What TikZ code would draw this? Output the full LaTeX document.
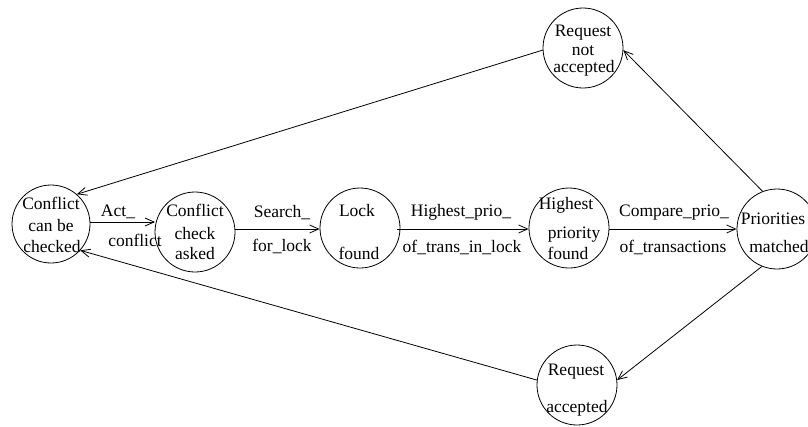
\documentclass[tikz,border=0pt]{standalone}
\usepackage{fontspec}
\setmainfont{Liberation Serif}
\usetikzlibrary{arrows.meta}
\begin{document}
\begin{tikzpicture}[x=1pt,y=-1pt,
  state/.style={draw,circle,line width=0.8pt,minimum size=80pt,inner sep=0pt},
  lbl/.style={inner sep=0pt,anchor=base,font=\fontsize{17.5}{20}\selectfont},
  edge/.style={line width=0.8pt,-{Straight Barb[length=9pt,width=8pt,line width=0.8pt]}}]
\useasboundingbox (0,0) rectangle (808,426);
% states
\node[state,minimum size=78pt] (c1) at (51,224) {};
\node[state] (c2) at (195,232) {};
\node[state] (c3) at (360,228) {};
\node[state] (c4) at (569,228) {};
\node[state] (c5) at (777,229) {};
\node[state] (c6) at (583,48) {};
\node[state] (c7) at (577,385) {};
% state texts
\node[lbl] (t1a) at (51,209) {Conflict};
\node[lbl] (t1b) at (51,231) {can be};
\node[lbl] (t1c) at (52,252) {checked};
\node[lbl] (t2a) at (195,216) {Conflict};
\node[lbl] (t2b) at (195,239) {check};
\node[lbl] (t2c) at (195,259) {asked};
\node[lbl] (t3a) at (357,216) {Lock};
\node[lbl] (t3b) at (359,259) {found};
\node[lbl] (t4a) at (566,209) {Highest};
\node[lbl] (t4b) at (574,238) {priority};
\node[lbl] (t4c) at (568,259) {found};
\node[lbl] (t5a) at (773,224) {Priorities};
\node[lbl] (t5b) at (779,252) {matched};
\node[lbl] (t6a) at (583,36) {Request};
\node[lbl] (t6b) at (583,55) {not};
\node[lbl] (t6c) at (584,72) {accepted};
\node[lbl] (t7a) at (576,375) {Request};
\node[lbl] (t7b) at (577,412) {accepted};
% edge labels
\node[lbl] (e1a) at (118,216) {Act\_};
\node[lbl] (e1b) at (135,246) {conflict};
\node[lbl] (e2a) at (282,217) {Search\_};
\node[lbl] (e2b) at (282,251) {for\_lock};
\node[lbl] (e3a) at (461,216) {Highest\_prio\_};
\node[lbl] (e3b) at (462,252) {of\_trans\_in\_lock};
\node[lbl] (e4a) at (674,216) {Compare\_prio\_};
\node[lbl] (e4b) at (673,252) {of\_transactions};
% edges
\draw[edge] (c1.east |- 0,222) -- (155,222);
\draw[edge] (c2.east |- 0,229) -- (c3.west |- 0,229);
\draw[edge] (397,229) -- (c4.west |- 0,229);
\draw[edge] (c4.east |- 0,229) -- (c5.west |- 0,229);
\draw[edge] (c6.183) -- (c1.49);
\draw[edge] (c7.173) -- (c1.318);
\draw[edge] (c5.111) -- (c6.357);
\draw[edge] (c5.248) -- (c7.7);
\end{tikzpicture}
\end{document}
